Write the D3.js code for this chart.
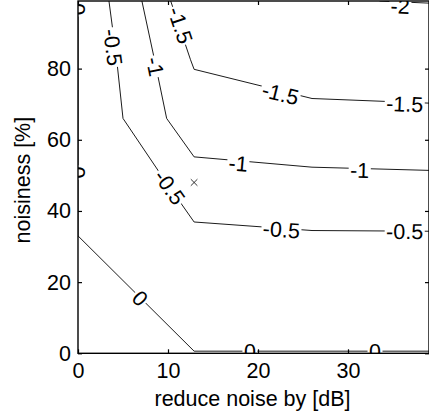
<!DOCTYPE html>
<html>
<head>
<meta charset="utf-8">
<script src="https://cdn.jsdelivr.net/npm/d3@7"></script>
<style>
  body { margin: 0; background: #fff; }
  svg { display: block; font-family: "Liberation Sans", Arial, sans-serif; }
</style>
</head>
<body>
<div id="chart"></div>
<script>
/* CONSTANTS AND GLOBALS */
const width = 429;
const height = 416;
const plotLeft = 78, plotRight = 429, plotTop = 1, plotBottom = 353.3;
const fontSize = 21.5;
const titleSize = 21.5;

/* DATA (x = reduce noise by [dB], y = noisiness [%]) */
const xTicks = [0, 10, 20, 30];
const yTicks = [0, 20, 40, 60, 80];
const contourLevels = [0, -0.5, -1, -1.5, -2];

const line0 = [[0, 99], [0, 33], [12.9, 0.6], [26, 0.6], [39, 0.6]];
const lineM05 = [[3.44, 99], [4.3, 82.5], [5.0, 66], [9.4, 49.5], [12.9, 36.9], [26, 34.5], [39, 34.3]];
const lineM1 = [[7.1, 99], [8.5, 82.5], [9.85, 66], [12.9, 55.2], [26, 52.3], [39, 51.4]];
const lineM15 = [[10.3, 99], [12.5, 82.5], [12.9, 79.8], [26, 71.6], [39, 70.3]];
const lineM2 = [[33.5, 99], [39, 98.4]];

// label anchor points on each contour
const labels0 = [[0, 96.7], [0, 50.8], [6.9, 15.5], [19.1, 0.6], [33, 0.6]];
const labelsM05 = [[3.9, 86], [10.2, 46.7], [22.6, 34.8], [36.3, 34.3]];
const labelsM1 = [[8.6, 80.6], [17.8, 53.4], [31.3, 51.5]];
const labelsM15 = [[11.4, 92.2], [22.5, 73.0], [36.3, 70.1]];
const labelsM2 = [[35.8, 97.6]];

const markerPoint = [12.9, 48.0];

const contours = [
  { level: contourLevels[0], points: line0, labels: labels0 },
  { level: contourLevels[1], points: lineM05, labels: labelsM05 },
  { level: contourLevels[2], points: lineM1, labels: labelsM1 },
  { level: contourLevels[3], points: lineM15, labels: labelsM15 },
  { level: contourLevels[4], points: lineM2, labels: labelsM2 }
];

/* SCALES */
const xScale = d3.scaleLinear().domain([0, 39]).range([plotLeft, plotRight]);
const yScale = d3.scaleLinear().domain([0, 99]).range([plotBottom, plotTop]);

const svg = d3.select("#chart")
  .append("svg")
  .attr("width", width)
  .attr("height", height);

const defs = svg.append("defs");
defs.append("clipPath").attr("id", "plot")
  .append("rect")
  .attr("x", plotLeft).attr("y", plotTop)
  .attr("width", plotRight - plotLeft).attr("height", plotBottom - plotTop);

const mask = defs.append("mask").attr("id", "gaps")
  .attr("maskUnits", "userSpaceOnUse")
  .attr("x", 0).attr("y", 0).attr("width", width).attr("height", height);
mask.append("rect").attr("width", width).attr("height", height).attr("fill", "white");

const line = d3.line().x(d => xScale(d[0])).y(d => yScale(d[1]));

const plot = svg.append("g").attr("clip-path", "url(#plot)");
const lines = plot.append("g").attr("mask", "url(#gaps)");
const labelG = plot.append("g")
  .attr("font-size", fontSize)
  .attr("fill", "black");

// angle of nearest segment in pixel space
function labelAngle(points, px, py) {
  let best = Infinity, ang = 0;
  for (let i = 0; i < points.length - 1; i++) {
    const x1 = xScale(points[i][0]), y1 = yScale(points[i][1]);
    const x2 = xScale(points[i + 1][0]), y2 = yScale(points[i + 1][1]);
    const dx = x2 - x1, dy = y2 - y1;
    const len2 = dx * dx + dy * dy;
    let t = len2 ? ((px - x1) * dx + (py - y1) * dy) / len2 : 0;
    t = Math.max(0, Math.min(1, t));
    const ex = x1 + t * dx - px, ey = y1 + t * dy - py;
    const dist = ex * ex + ey * ey;
    if (dist < best) { best = dist; ang = Math.atan2(dy, dx) * 180 / Math.PI; }
  }
  if (ang > 90) ang -= 180;
  if (ang <= -90) ang += 180;
  return ang;
}

contours.forEach(c => {
  lines.append("path")
    .attr("d", line(c.points))
    .attr("fill", "none")
    .attr("stroke", "black")
    .attr("stroke-width", 0.9);

  c.labels.forEach(p => {
    const px = xScale(p[0]), py = yScale(p[1]);
    const a = labelAngle(c.points, px, py);
    const tr = `translate(${px},${py}) rotate(${a})`;
    const t = labelG.append("text")
      .attr("transform", tr)
      .attr("text-anchor", "middle")
      .attr("dy", "0.36em")
      .text(String(c.level));
    const w = t.node().getComputedTextLength();
    mask.append("rect")
      .attr("transform", tr)
      .attr("x", -w / 2 - 1.5).attr("y", -fontSize * 0.45)
      .attr("width", w + 3).attr("height", fontSize * 0.9)
      .attr("fill", "black");
  });
});

// marker
const timesPath = d3.symbolTimes
  ? d3.symbol(d3.symbolTimes, 30)()
  : "M-3.3,-3.3L3.3,3.3M-3.3,3.3L3.3,-3.3";
plot.append("path")
  .attr("d", timesPath)
  .attr("transform", `translate(${xScale(markerPoint[0])},${yScale(markerPoint[1])})`)
  .attr("fill", "none")
  .attr("stroke", "black")
  .attr("stroke-width", 0.8);

/* AXES */
const styleAxis = g => g
  .attr("font-size", fontSize)
  .attr("font-family", null)
  .call(g => g.selectAll(".tick line").attr("stroke-width", 1.2))
  .call(g => g.select(".domain").remove());

svg.append("g")
  .attr("transform", `translate(0,${plotBottom})`)
  .call(d3.axisBottom(xScale).tickValues(xTicks).tickSize(-4).tickPadding(9))
  .call(styleAxis);

svg.append("g")
  .attr("transform", `translate(${plotLeft},0)`)
  .call(d3.axisLeft(yScale).tickValues(yTicks).tickSize(-4).tickPadding(7))
  .call(styleAxis);

svg.append("g")
  .attr("transform", `translate(0,${plotTop})`)
  .call(d3.axisTop(xScale).tickValues(xTicks).tickSize(-4).tickFormat(""))
  .call(styleAxis);

svg.append("g")
  .attr("transform", `translate(${plotRight},0)`)
  .call(d3.axisRight(yScale).tickValues(yTicks).tickSize(-4).tickFormat(""))
  .call(styleAxis);

svg.append("rect")
  .attr("x", plotLeft).attr("y", plotTop)
  .attr("width", plotRight - plotLeft).attr("height", plotBottom - plotTop)
  .attr("fill", "none")
  .attr("stroke", "black")
  .attr("stroke-width", 1.4);

/* TITLES */
svg.append("text")
  .attr("x", (plotLeft + plotRight) / 2 - 1)
  .attr("y", 406)
  .attr("text-anchor", "middle")
  .attr("font-size", titleSize)
  .text("reduce noise by [dB]");

svg.append("text")
  .attr("transform", `translate(30,${(plotTop + plotBottom) / 2 + 3}) rotate(-90)`)
  .attr("text-anchor", "middle")
  .attr("font-size", titleSize)
  .text("noisiness [%]");
</script>
</body>
</html>
